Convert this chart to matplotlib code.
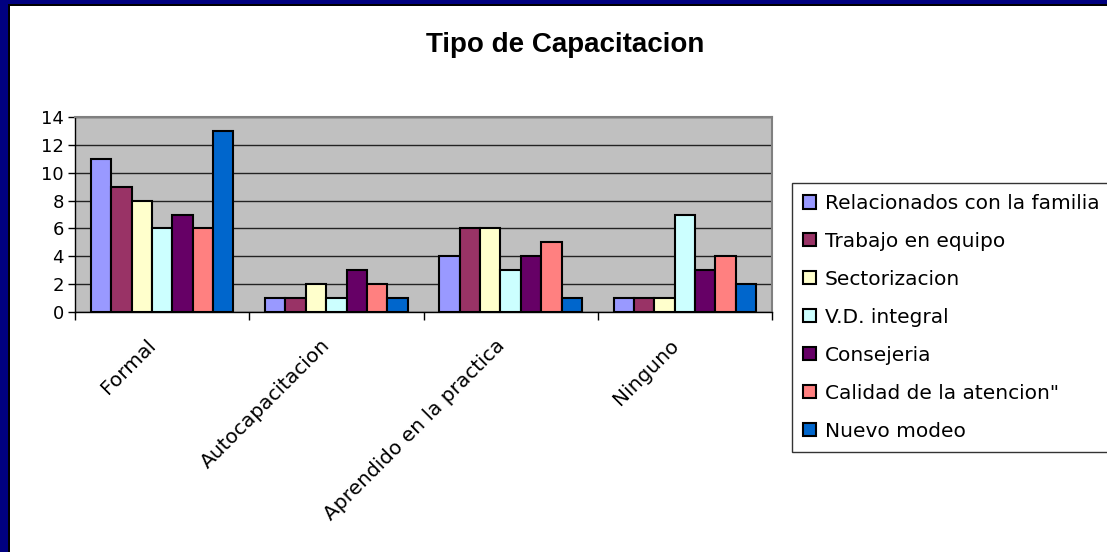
import matplotlib
matplotlib.use("Agg")
import matplotlib.pyplot as plt
from matplotlib.patches import Rectangle
import matplotlib.transforms as mtrans
import numpy as np

plt.rcParams['font.family'] = ['DejaVu Sans']

categories = ["Formal", "Autocapacitacion", "Aprendido en la practica", "Ninguno"]
series_names = ["Relacionados con la familia", "Trabajo en equipo", "Sectorizacion",
                "V.D. integral", "Consejeria", "Calidad de la atencion\"", "Nuevo modeo"]
relacionados = [11, 1, 4, 1]
trabajo = [9, 1, 6, 1]
sectorizacion = [8, 2, 6, 1]
vd_integral = [6, 1, 3, 7]
consejeria = [7, 3, 4, 3]
calidad = [6, 2, 5, 4]
nuevo = [13, 1, 1, 2]
series = [relacionados, trabajo, sectorizacion, vd_integral, consejeria, calidad, nuevo]
colors = ["#9999FF", "#993366", "#FFFFCC", "#CCFFFF", "#660066", "#FF8080", "#0066CC"]
yticks = [0, 2, 4, 6, 8, 10, 12, 14]

W, H = 1107, 552
fig = plt.figure(figsize=(W / 100, H / 100), dpi=100)
fig.patch.set_facecolor("white")

# frame borders
fig.add_artist(Rectangle((0, 0), 8 / W, 1, transform=fig.transFigure, facecolor="#000080", edgecolor="none"))
fig.add_artist(Rectangle((8 / W, 0), 2 / W, 1 - 4 / H, transform=fig.transFigure, facecolor="black", edgecolor="none"))
fig.add_artist(Rectangle((0, 1 - 4 / H), 1, 4 / H, transform=fig.transFigure, facecolor="#000080", edgecolor="none"))
fig.add_artist(Rectangle((8 / W, 1 - 6 / H), 1, 2 / H, transform=fig.transFigure, facecolor="black", edgecolor="none"))

ax = fig.add_axes([75 / W, 1 - 312 / H, (772 - 75) / W, (312 - 117) / H])
ax.set_facecolor("#C0C0C0")

n = len(series)
bw = 0.117
x = np.arange(len(categories))
for i, (vals, c, name) in enumerate(zip(series, colors, series_names)):
    offs = (i - (n - 1) / 2) * bw
    ax.bar(x + offs, vals, width=bw, color=c, edgecolor="black", linewidth=1.5, label=name, zorder=3)

ax.set_xlim(-0.5, len(categories) - 0.5)
ax.set_ylim(0, 14)
ax.set_yticks(yticks)
ax.set_yticklabels([str(v) for v in yticks], fontsize=13)
ax.yaxis.grid(True, color="#222222", linewidth=1, zorder=1)
ax.set_axisbelow(True)

ax.set_xticks(x)
ax.set_xticklabels(categories, rotation=45, ha="right", va="center", rotation_mode="anchor", fontsize=14.5)
ax.tick_params(axis="x", which="major", length=0, pad=22)
ax.set_xticks(np.arange(-0.5, len(categories)), minor=True)
ax.tick_params(axis="x", which="minor", length=6, width=1, direction="out", color="black")
ax.tick_params(axis="y", length=5, width=1, direction="out", pad=3)
shift = mtrans.ScaledTranslation(-9 / 100, 0, fig.dpi_scale_trans)
for lbl in ax.get_xticklabels():
    lbl.set_transform(lbl.get_transform() + shift)

for s in ["left", "bottom"]:
    ax.spines[s].set_color("black")
    ax.spines[s].set_linewidth(1)
for s in ["top", "right"]:
    ax.spines[s].set_color("#808080")
    ax.spines[s].set_linewidth(1.5)

fig.text(565 / W, 1 - 52 / H, "Tipo de Capacitacion", ha="center", va="baseline", fontsize=20,
         fontweight="bold", family="Liberation Sans")

leg = fig.legend(loc="upper left", bbox_to_anchor=(792 / W, 1 - 183 / H), fontsize=14.5,
                 frameon=True, fancybox=False, edgecolor="black", handlelength=0.62, handleheight=0.62,
                 handletextpad=0.45, labelspacing=0.94, borderpad=0.55, borderaxespad=0)
leg.get_frame().set_linewidth(1)
for h in leg.legend_handles:
    h.set_linewidth(1.5)

fig.savefig("out.png", dpi=100, facecolor="white")
